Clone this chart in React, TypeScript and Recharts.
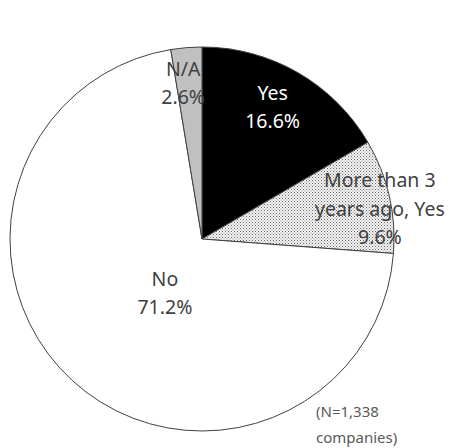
import React from "react";
import { PieChart, Pie, Cell } from "recharts";

const categories = ["Yes", "More than 3 years ago, Yes", "No", "N/A"];
const shares = [16.6, 9.6, 71.2, 2.6];
const labelLines = [
  ["Yes", "16.6%"],
  ["More than 3", "years ago, Yes", "9.6%"],
  ["No", "71.2%"],
  ["N/A", "2.6%"],
];
const noteLines = ["(N=1,338", "companies)"];

const data = categories.map((name, i) => ({ name, value: shares[i] }));

const fills = ["#000000", "url(#dots)", "#ffffff", "#c0c0c0"];
const textColors = ["#ffffff", "#404040", "#404040", "#404040"];
const placement = [
  { ratio: 0.78, dx: -4, dy: -3 },
  { ratio: 0.94, dx: 2, dy: 9 },
  { ratio: 0.34, dx: 7, dy: 5 },
  { ratio: 0.82, dx: -6, dy: 0 },
];

const RAD = Math.PI / 180;
const FONT = "'Noto Sans', sans-serif";

const renderLabel = (props: any) => {
  const { cx, cy, midAngle, outerRadius, index } = props;
  const p = placement[index];
  const r = outerRadius * p.ratio;
  const x = cx + r * Math.cos(-midAngle * RAD) + p.dx;
  const y = cy + r * Math.sin(-midAngle * RAD) + p.dy;
  const lines = labelLines[index];
  const lh = 28.5;
  const start = y - ((lines.length - 1) * lh) / 2;
  return (
    <text
      key={"lbl" + index}
      textAnchor="middle"
      dominantBaseline="central"
      fill={textColors[index]}
      fontSize={19.5}
      fontFamily={FONT}
    >
      {lines.map((t, j) => (
        <tspan key={j} x={x} y={start + j * lh}>
          {t}
        </tspan>
      ))}
    </text>
  );
};

export default function App() {
  return (
    <div style={{ position: "absolute", left: 0, top: 0, width: 453, height: 448, background: "#fff" }}>
      <PieChart width={453} height={448} margin={{ top: 0, right: 0, bottom: 0, left: 0 }}>
        <defs>
          <pattern id="dots" patternUnits="userSpaceOnUse" width="3" height="3">
            <rect x="0" y="0" width="3" height="3" fill="#f4f4f4" />
            <rect x="0" y="0" width="1" height="1" fill="#666666" />
            <rect x="1.5" y="1.5" width="1" height="1" fill="#888888" />
          </pattern>
        </defs>
        <Pie
          data={data}
          dataKey="value"
          nameKey="name"
          cx={202}
          cy={239}
          outerRadius={192}
          startAngle={90}
          endAngle={-270}
          stroke="#404040"
          strokeWidth={1}
          isAnimationActive={false}
          labelLine={false}
          label={renderLabel}
        >
          {data.map((d, i) => (
            <Cell key={d.name} fill={fills[i]} />
          ))}
        </Pie>
      </PieChart>
      <div
        style={{
          position: "absolute",
          left: 316,
          top: 398,
          fontFamily: FONT,
          fontSize: 15,
          lineHeight: "26px",
          color: "#595959",
          whiteSpace: "nowrap",
        }}
      >
        {noteLines.map((t) => (
          <div key={t}>{t}</div>
        ))}
      </div>
    </div>
  );
}
